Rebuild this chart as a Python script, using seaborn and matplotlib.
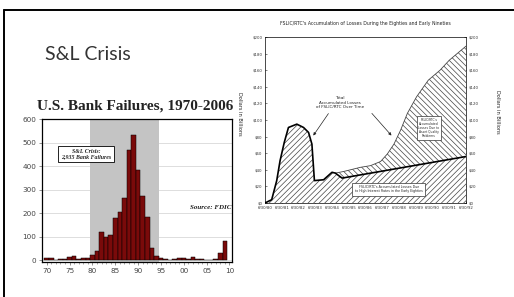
import numpy as np
import pandas as pd
import matplotlib
matplotlib.use("Agg")
import matplotlib.pyplot as plt
from matplotlib.lines import Line2D
import seaborn as sns

W, H = 514, 297

# Left chart: U.S. bank failures per year
years = list(range(1970, 2010))
failures = [8, 8, 1, 6, 4, 13, 16, 6, 7, 10,
            22, 40, 119, 99, 106, 180, 204, 262, 470, 534,
            382, 271, 181, 50, 15, 8, 6, 1, 3, 8,
            7, 4, 11, 3, 4, 0, 0, 3, 30, 80]
year_labels = ["70", "75", "80", "85", "90", "95", "00", "05", "10"]
crisis_span = (1979.5, 1994.5)

# Right chart: FSLIC/RTC accumulated losses ($ billions)
rate_x = [80.0, 80.4, 80.7, 80.9, 81.15, 81.4, 81.9, 82.3, 82.6, 82.8,
          82.95, 83.5, 84.0, 84.2, 84.6, 92.0]
rate_y = [0, 4, 27, 51, 73, 91, 95, 91, 85, 71,
          27, 28, 37, 36, 30, 56]
total_x = [84.2, 84.7, 85.7, 86.3, 86.9, 87.3, 87.7, 88.1, 88.5, 89.05,
           89.75, 90.45, 91.0, 92.0]
total_y = [36, 38, 43, 45, 50, 59, 71, 88, 108, 128,
           148, 160, 172, 189]
date_labels = ["6/30/%d" % y for y in range(80, 93)]
dollar_ticks = list(range(0, 201, 20))

sns.set_style("white")
plt.rcParams["hatch.linewidth"] = 0.5


def box(x0, y0, x1, y1):
    # pixel box -> figure fraction rect
    return [x0 / W, 1 - y1 / H, (x1 - x0) / W, (y1 - y0) / H]


fig = plt.figure(figsize=(W / 100, H / 100), dpi=100)
fig.patch.set_facecolor("white")

# slide frame
fig.add_artist(Line2D([4 / W, 1], [1 - 9.5 / H, 1 - 9.5 / H], color="black", lw=1.4,
                      transform=fig.transFigure, zorder=10))
fig.add_artist(Line2D([4 / W, 4 / W], [0, 1 - 9.5 / H], color="black", lw=1.4,
                      transform=fig.transFigure, zorder=10))

fig.text(45 / W, 1 - 60 / H, "S&L Crisis", fontsize=14, color="#333333",
         family="Lato", va="baseline", ha="left")

# ---- left chart ----
fig.text(37 / W, 1 - 110 / H, "U.S. Bank Failures, 1970-2006", fontsize=11.0,
         family="Liberation Serif", weight="bold", color="#222222",
         va="baseline", ha="left", zorder=3)

axl = fig.add_axes(box(42, 119, 232, 262), zorder=1)
df = pd.DataFrame({"year": years, "failures": failures})
sns.barplot(data=df, x="year", y="failures", color="#7a0a0a", width=1.0,
            edgecolor="black", linewidth=0.35, saturation=1, ax=axl, zorder=3)
axl.axvspan(crisis_span[0] - years[0], crisis_span[1] - years[0],
            color="#c4c4c4", zorder=1, lw=0)
axl.set_xlim(-1.03, 40.55)
axl.set_ylim(-8.5, 600)
axl.set_yticks(range(0, 601, 100))
axl.yaxis.grid(True, color="#d0d0d0", lw=0.5, zorder=0)
axl.set_axisbelow(True)
axl.set_xticks(range(0, 41, 5))
axl.set_xticklabels(year_labels)
axl.set_xticks(range(0, 41), minor=True)
axl.tick_params(axis="both", which="major", labelsize=5.2, labelcolor="#444444",
                length=2, width=0.5, color="#666666", pad=2, bottom=True, left=True)
axl.tick_params(axis="x", which="minor", length=1.5, width=0.4, color="#666666", bottom=True)
axl.set_xlabel("")
axl.set_ylabel("")
for s in axl.spines.values():
    s.set_color("black")
    s.set_linewidth(0.9)
axl.text(8.6, 450, "S&L Crisis:\n2,935 Bank Failures", fontsize=4.2, style="italic",
         weight="bold", family="Liberation Serif", ha="center", va="center",
         linespacing=1.0, zorder=5,
         bbox=dict(boxstyle="square,pad=0.5", fc="white", ec="black", lw=0.6))
axl.text(40.4, 225, "Source: FDIC", fontsize=5.0, style="italic", weight="bold",
         family="Liberation Serif", ha="right", va="center", color="#222222", zorder=5)

# ---- right chart ----
bg = fig.add_axes(box(240, 12, 510, 225), zorder=4)
bg.axis("off")
bg.add_artist(plt.Rectangle((0, 0), 1, 1, transform=bg.transAxes, fc="white", ec="none"))

axr = fig.add_axes(box(265, 37, 466, 203), zorder=6)
axr.fill_between(rate_x, 0, rate_y, facecolor="white", edgecolor="#444444",
                 hatch="//////", linewidth=0, zorder=1)
lower = pd.DataFrame({"x": rate_x, "y": rate_y})
tail = lower[lower["x"] >= total_x[0]].iloc[::-1]
axr.fill(list(total_x) + list(tail["x"]), list(total_y) + list(tail["y"]),
         facecolor="white", edgecolor="#444444", hatch="\\\\\\\\\\\\", linewidth=0, zorder=1)
sns.lineplot(x=total_x, y=total_y, color="#444444", lw=0.6, sort=False, ax=axr, zorder=3)
sns.lineplot(x=rate_x, y=rate_y, color="black", lw=1.2, sort=False, ax=axr, zorder=4)
axr.set_xlim(80, 92)
axr.set_ylim(0, 200)
axr.set_xticks(range(80, 93))
axr.set_xticklabels(date_labels)
axr.set_yticks(dollar_ticks)
axr.set_yticklabels(["$%d" % v for v in dollar_ticks])
axr.tick_params(axis="both", labelsize=2.8, labelcolor="#333333", length=1.2,
                width=0.4, direction="in", pad=2, right=True, labelright=True,
                bottom=True, left=True)
for s in axr.spines.values():
    s.set_color("black")
    s.set_linewidth(0.5)

fig.text(365.5 / W, 1 - 23 / H,
         "FSLIC/RTC's Accumulation of Losses During the Eighties and Early Nineties",
         fontsize=3.3, ha="center", va="center", color="#222222", zorder=7)
fig.text(240 / W, 1 - 114 / H, "Dollars in Billions", fontsize=3.6, rotation=270,
         ha="center", va="center", color="#222222", zorder=7)
fig.text(497 / W, 1 - 112 / H, "Dollars in Billions", fontsize=3.6, rotation=270,
         ha="center", va="center", color="#222222", zorder=7)

axr.text(84.48, 121, "Total\nAccumulated Losses\nof FSLIC/RTC Over Time", fontsize=3.0,
         ha="center", va="center", linespacing=1.1, color="#222222", zorder=6)
arrow = dict(arrowstyle="-|>", color="#222222", lw=0.5, mutation_scale=4)
axr.annotate("", xy=(82.79, 78.5), xytext=(83.88, 110.5), arrowprops=arrow, zorder=6)
axr.annotate("", xy=(87.66, 78.8), xytext=(86.27, 110.5), arrowprops=arrow, zorder=6)
axr.text(89.79, 90.6, "FSLIC/RTC's\nAccumulated\nLosses Due to\nAsset Quality\nProblems",
         fontsize=2.2, ha="center", va="center", linespacing=1.05, zorder=6,
         bbox=dict(boxstyle="square,pad=0.6", fc="white", ec="#333333", lw=0.5))
axr.text(87.4, 16.5, "FSLIC/RTC's Accumulated Losses Due\nto High Interest Rates in the Early Eighties",
         fontsize=2.3, ha="center", va="center", linespacing=1.1, zorder=6,
         bbox=dict(boxstyle="square,pad=0.8", fc="white", ec="#333333", lw=0.5))

fig.savefig("out.png", dpi=100, facecolor="white")
